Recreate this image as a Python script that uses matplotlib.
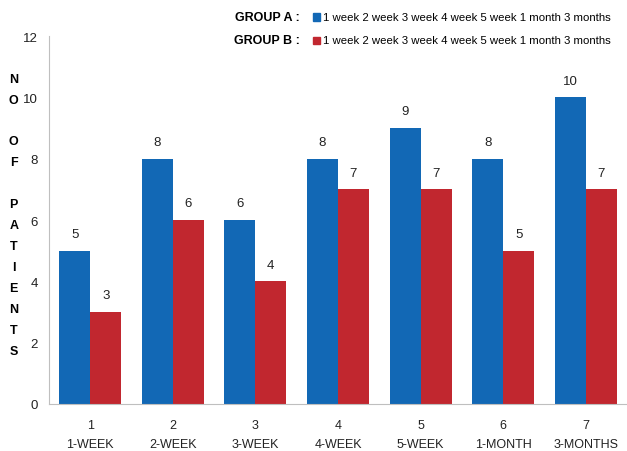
import matplotlib.pyplot as plt
import numpy as np

plt.rcParams['font.family'] = ['Liberation Sans', 'DejaVu Sans']

# patient counts per follow-up visit
visits = ['1', '2', '3', '4', '5', '6', '7']
periods = ['1-WEEK', '2-WEEK', '3-WEEK', '4-WEEK', '5-WEEK', '1-MONTH', '3-MONTHS']
group_a = [5, 8, 6, 8, 9, 8, 10]
group_b = [3, 6, 4, 7, 7, 5, 7]

blue = '#1268B5'
red = '#C1272F'
legend_text = '1 week 2 week 3 week 4 week 5 week 1 month 3 months'

fig = plt.figure(figsize=(6.27, 4.52), dpi=100)
ax = fig.add_axes([0.078, 0.104, 0.922, 0.814])

x = np.arange(len(visits))
w = 0.375
bars_a = ax.bar(x - w / 2, group_a, w, color=blue)
bars_b = ax.bar(x + w / 2, group_b, w, color=red)

for bars, vals in ((bars_a, group_a), (bars_b, group_b)):
    for b, v in zip(bars, vals):
        ax.text(b.get_x() + b.get_width() / 2, v + 0.35, str(v),
                ha='center', va='bottom', fontsize=9.5, color='#222222')

ax.set_xlim(-0.5, len(visits) - 0.5)
ax.set_ylim(0, 12)
ax.set_yticks(range(0, 13, 2))
ax.set_xticks(x)
ax.set_xticklabels([f'{v}\n{p}' for v, p in zip(visits, periods)],
                   fontsize=9, linespacing=1.75)
ax.tick_params(axis='both', length=0, colors='#222222')
ax.tick_params(axis='y', pad=8, labelsize=9.5)
ax.tick_params(axis='x', pad=11)
for side in ('top', 'right'):
    ax.spines[side].set_visible(False)
for side in ('left', 'bottom'):
    ax.spines[side].set_color('#bfbfbf')

# vertical stacked axis title
fig.text(0.022, 0.837, 'N\nO\n\nO\nF\n\nP\nA\nT\nI\nE\nN\nT\nS',
         ha='center', va='top', fontsize=9, fontweight='bold',
         linespacing=1.99)

# legend rows drawn by hand
for yy, name, col in ((0.960, 'GROUP A :', blue), (0.909, 'GROUP B :', red)):
    fig.text(0.478, yy, name, ha='right', va='center', fontsize=9,
             fontweight='bold')
    fig.patches.append(plt.Rectangle((0.499, yy - 0.008), 0.011, 0.016,
                                     transform=fig.transFigure, color=col))
    fig.text(0.515, yy, legend_text, ha='left', va='center', fontsize=8.2)

fig.savefig('out.png', dpi=100)
